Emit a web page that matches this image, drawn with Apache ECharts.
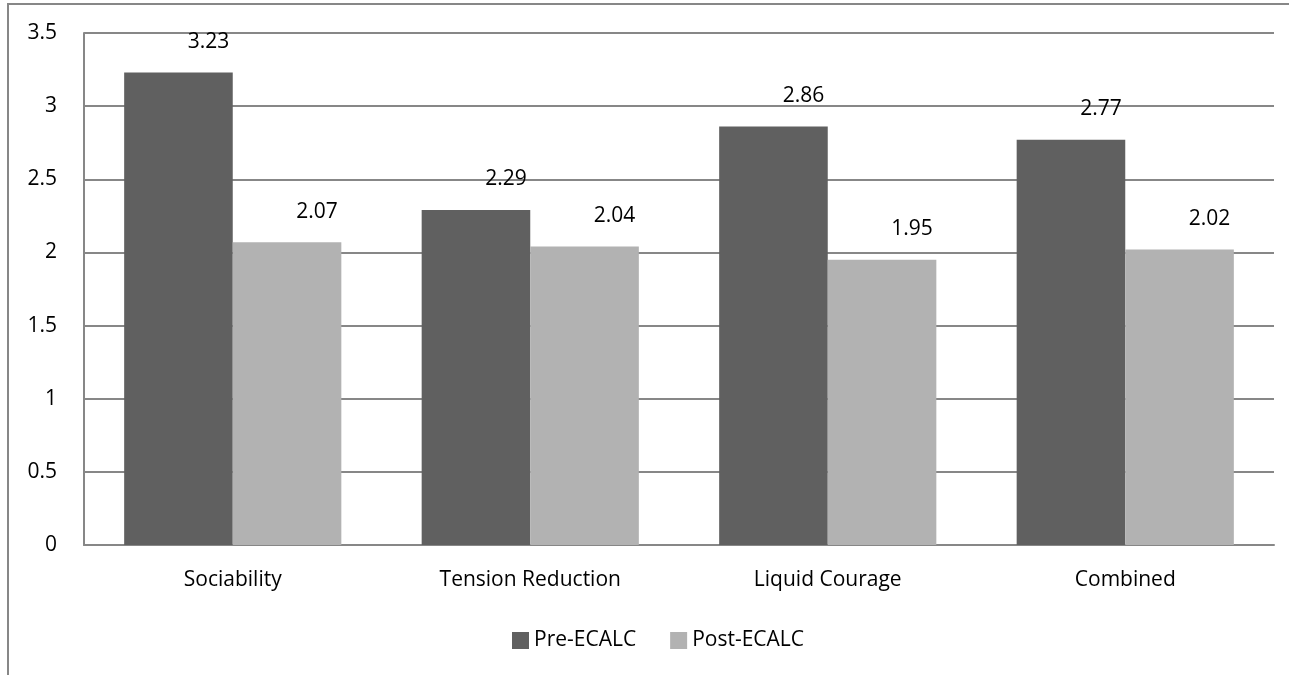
<!doctype html>
<html>
  <head>
    <meta charset="UTF-8" />
    <title>ECALC</title>
    <style>
      html, body { margin: 0; padding: 0; background: #fff; overflow: hidden; }
      #frame {
        position: absolute;
        left: 7px;
        top: 3px;
        width: 1400px;
        height: 800px;
        border-left: 2px solid #878787;
        border-top: 2px solid #878787;
      }
      #chart {
        position: absolute;
        left: 0;
        top: 0;
        width: 1289px;
        height: 675px;
      }
    </style>
  </head>
  <body>
    <div id="frame"></div>
    <div id="chart"></div>

    <script src="https://cdn.jsdelivr.net/npm/echarts@6/dist/echarts.min.js"></script>
    <script>
      const categories = ['Sociability', 'Tension Reduction', 'Liquid Courage', 'Combined']
      const preValues = [3.23, 2.29, 2.86, 2.77]
      const postValues = [2.07, 2.04, 1.95, 2.02]
      const seriesNames = ['Pre-ECALC', 'Post-ECALC']

      const font = 'Open Sans'
      const fs = 21
      const myChart = echarts.init(document.querySelector('#chart'))

      const labelStyle = {
        show: true,
        position: 'top',
        distance: 20,
        offset: [30, 0],
        color: '#000',
        fontFamily: font,
        fontSize: fs
      }

      const option = {
        animation: false,
        textStyle: { fontFamily: font },
        grid: { left: 84, top: 33, right: 15, bottom: 130, containLabel: false },
        legend: {
          data: seriesNames,
          left: 507,
          top: 625,
          itemWidth: 17,
          itemHeight: 17,
          itemGap: 34,
          icon: 'rect',
          textStyle: { fontFamily: font, fontSize: fs, color: '#000' }
        },
        xAxis: {
          type: 'category',
          data: categories,
          axisLine: { lineStyle: { color: '#878787', width: 2 } },
          axisTick: { show: false },
          axisLabel: { color: '#000', fontFamily: font, fontSize: fs, margin: 25 }
        },
        yAxis: {
          type: 'value',
          min: 0,
          max: 3.5,
          interval: 0.5,
          axisLine: { show: true, lineStyle: { color: '#878787', width: 2 } },
          axisTick: { show: false },
          axisLabel: { color: '#000', fontFamily: font, fontSize: fs, margin: 27 },
          splitLine: { lineStyle: { color: '#878787', width: 2 } }
        },
        series: [
          {
            name: seriesNames[0],
            type: 'bar',
            data: preValues,
            barGap: '0%',
            barCategoryGap: '27%',
            itemStyle: { color: '#606060' },
            label: labelStyle
          },
          {
            name: seriesNames[1],
            type: 'bar',
            data: postValues,
            itemStyle: { color: '#b2b2b2' },
            label: labelStyle
          }
        ]
      }

      myChart.setOption(option)
    </script>
  </body>
</html>
